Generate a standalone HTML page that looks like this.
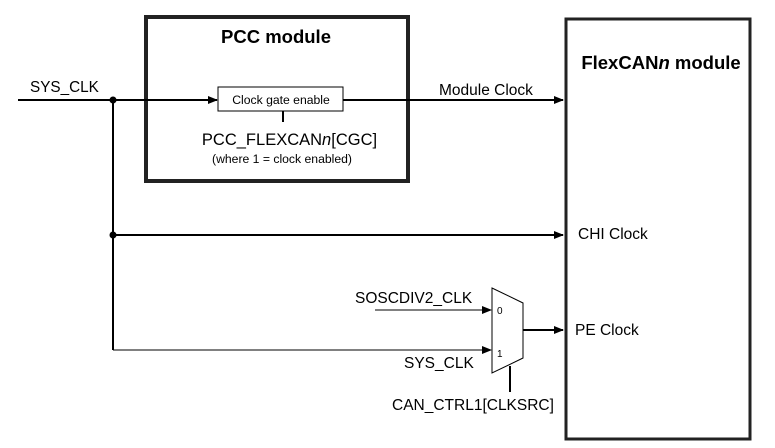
<!DOCTYPE html>
<html><head><style>body{margin:0;background:#fff}</style></head><body>
<svg width="775" height="443" xmlns="http://www.w3.org/2000/svg" font-family="Liberation Sans, sans-serif">
<defs><marker id="a" markerWidth="10" markerHeight="8" refX="9" refY="4" orient="auto" markerUnits="userSpaceOnUse"><path d="M0,0 L10,4 L0,8 z" fill="#000"/></marker></defs>
<rect x="146" y="17" width="262" height="164" fill="none" stroke="#222" stroke-width="4"/>
<rect x="566" y="19" width="184" height="420" fill="none" stroke="#222" stroke-width="3"/>
<text x="276" y="43" font-size="18.5" font-weight="bold" text-anchor="middle">PCC module</text>
<text x="661" y="69" font-size="18.5" font-weight="bold" text-anchor="middle">FlexCAN<tspan font-style="italic">n</tspan> module</text>
<rect x="218" y="87" width="125" height="24" fill="#fff" stroke="#000" stroke-width="1"/>
<text x="281" y="104" font-size="12.2" text-anchor="middle">Clock gate enable</text>
<g stroke="#000" stroke-width="2" fill="none">
<line x1="18" y1="100" x2="217" y2="100" marker-end="url(#a)"/>
<line x1="343" y1="100" x2="563" y2="100" marker-end="url(#a)"/>
<line x1="283" y1="111" x2="283" y2="122"/>
<line x1="113" y1="100" x2="113" y2="350"/>
<line x1="113" y1="235" x2="563" y2="235" marker-end="url(#a)"/>
<line x1="523" y1="330" x2="563" y2="330" marker-end="url(#a)"/>
<line x1="510" y1="366" x2="510" y2="392"/>
</g>
<g stroke="#000" stroke-width="1" fill="none">
<line x1="375" y1="310" x2="491" y2="310" marker-end="url(#a)"/>
<line x1="113" y1="350" x2="491" y2="350" marker-end="url(#a)"/>
<polygon points="492,288 523,303 523,358 492,373" fill="#fff"/>
</g>
<circle cx="113" cy="100" r="3.5"/><circle cx="113" cy="235" r="3.5"/>
<text x="30" y="92" font-size="15.3">SYS_CLK</text>
<text x="439" y="95" font-size="15.5">Module Clock</text>
<text x="289.5" y="145" font-size="16.5" text-anchor="middle">PCC_FLEXCAN<tspan font-style="italic">n</tspan>[CGC]</text>
<text x="282" y="163" font-size="12.2" text-anchor="middle">(where 1 = clock enabled)</text>
<text x="578" y="239" font-size="15.5">CHI Clock</text>
<text x="355" y="303" font-size="15.5">SOSCDIV2_CLK</text>
<text x="404" y="368" font-size="15.5">SYS_CLK</text>
<text x="575" y="335" font-size="15.5">PE Clock</text>
<text x="497" y="314" font-size="10">0</text>
<text x="497" y="357" font-size="10">1</text>
<text x="392" y="410" font-size="15.5">CAN_CTRL1[CLKSRC]</text>
</svg>
</body></html>
